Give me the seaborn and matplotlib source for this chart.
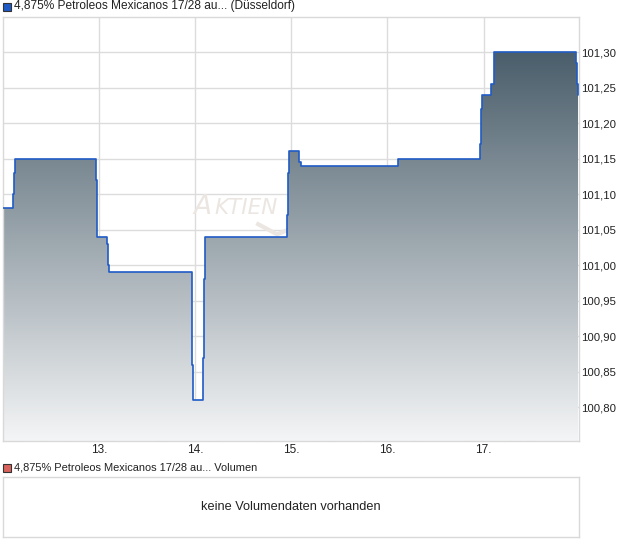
import numpy as np
import pandas as pd
import matplotlib
matplotlib.use("Agg")
import matplotlib.pyplot as plt
import seaborn as sns
from matplotlib.colors import LinearSegmentedColormap
from matplotlib.patches import Rectangle

# ---- data ----
days = [12.000, 12.104, 12.111, 12.125, 12.9625, 12.973, 12.979, 13.083, 13.094, 13.104,
        13.9625, 13.971, 13.979, 14.083, 14.094, 14.104, 14.958, 14.969, 14.979, 15.083,
        15.104, 16.108, 16.958, 16.969, 16.979, 17.080, 17.104, 17.9625, 17.973, 17.986]
prices = [101.08, 101.10, 101.13, 101.15, 101.12, 101.07, 101.04, 101.03, 101.00, 100.99,
          100.94, 100.86, 100.81, 100.87, 100.98, 101.04, 101.07, 101.13, 101.16, 101.145,
          101.14, 101.15, 101.17, 101.22, 101.24, 101.255, 101.30, 101.285, 101.255, 101.24]
x_ticks = [13, 14, 15, 16, 17]
x_labels = ["13.", "14.", "15.", "16.", "17."]
y_ticks = [100.80, 100.85, 100.90, 100.95, 101.00, 101.05, 101.10, 101.15, 101.20, 101.25, 101.30]
y_labels = ["100,80", "100,85", "100,90", "100,95", "101,00", "101,05", "101,10",
            "101,15", "101,20", "101,25", "101,30"]
title_main = "4,875% Petroleos Mexicanos 17/28 au... (Düsseldorf)"
title_vol = "4,875% Petroleos Mexicanos 17/28 au... Volumen"
no_vol = "keine Volumendaten vorhanden"

df = pd.DataFrame({"day": days, "price": prices})

sns.set_theme(style="white")
plt.rcParams["font.family"] = ["Liberation Sans", "DejaVu Sans"]

W, H = 620, 546
fig = plt.figure(figsize=(W / 100, H / 100), dpi=100)

def fx(px):
    return px / W

def fy(py):
    return 1 - py / H

XMIN, XMAX = 12.0, 17.99
YMIN, YMAX = 100.7525, 101.35
border = "#d9d9d9"
grid = "#dcdcdc"
txt = "#222222"
wm = "#ebe6e1"

ax = fig.add_axes([fx(3), fy(441), fx(578.7) - fx(3), fy(16.5) - fy(441)])
ax.set_xlim(XMIN, XMAX)
ax.set_ylim(YMIN, YMAX)

for v in x_ticks:
    ax.axvline(v, color=grid, lw=1, zorder=0)
for v in y_ticks:
    ax.axhline(v, color=grid, lw=1, zorder=0)

# watermark (axes-fraction placement)
ax.text(0.331, 0.535, "A", transform=ax.transAxes, fontsize=19, style="italic",
        color=wm, ha="left", va="baseline", zorder=1, fontfamily="DejaVu Sans")
ax.text(0.367, 0.535, "KTIEN", transform=ax.transAxes, fontsize=15.5, style="italic",
        color=wm, ha="left", va="baseline", zorder=1, fontfamily="DejaVu Sans")
ax.plot([0.440, 0.476, 0.50], [0.513, 0.487, 0.50], transform=ax.transAxes,
        color=wm, lw=3, solid_capstyle="butt", zorder=1)

# gradient fill under step line
poly = ax.fill_between(df["day"], df["price"], YMIN, step="post", color="none", lw=0, zorder=2)
cmap = LinearSegmentedColormap.from_list("g", ["#f4f5f6", "#4a5e6b"])
grad = np.linspace(0, 1, 256).reshape(-1, 1)
im = ax.imshow(grad, extent=[XMIN, XMAX, YMIN, 101.30], origin="lower", cmap=cmap,
               aspect="auto", zorder=2, interpolation="bilinear")
path = poly.get_paths()[0]
im.set_clip_path(path, transform=ax.transData)
ax.set_xlim(XMIN, XMAX)
ax.set_ylim(YMIN, YMAX)

sns.lineplot(data=df, x="day", y="price", ax=ax, drawstyle="steps-post", color="#1f5bc6",
             lw=1.2, estimator=None, sort=False, zorder=3)

ax.set_xlabel("")
ax.set_ylabel("")
ax.set_xticks(x_ticks)
ax.set_xticklabels(x_labels, fontsize=8.5, color=txt)
ax.set_yticks(y_ticks)
ax.set_yticklabels(y_labels, fontsize=8.2, color=txt)
ax.yaxis.tick_right()
ax.tick_params(axis="both", length=0)
ax.tick_params(axis="y", pad=2)
ax.tick_params(axis="x", pad=2)
for s in ax.spines.values():
    s.set_color(border)
    s.set_linewidth(1)
    s.set_visible(True)

# legend headers
fig.add_artist(Rectangle((fx(3), fy(10.5)), fx(8), 8 / H, facecolor="#1f5bc6",
                         edgecolor="#333333", lw=0.8, transform=fig.transFigure))
fig.text(fx(14), fy(6.5), title_main, fontsize=8.6, color=txt, ha="left", va="center")
fig.add_artist(Rectangle((fx(3), fy(471.5)), fx(8), 8 / H, facecolor="#d9625c",
                         edgecolor="#333333", lw=0.8, transform=fig.transFigure))
fig.text(fx(14), fy(467.5), title_vol, fontsize=7.9, color=txt, ha="left", va="center")

# volume panel
axv = fig.add_axes([fx(3), fy(537.3), fx(578.7) - fx(3), fy(477.3) - fy(537.3)])
axv.set_xticks([])
axv.set_yticks([])
for s in axv.spines.values():
    s.set_color(border)
    s.set_linewidth(1)
axv.text(0.5, 0.5, no_vol, transform=axv.transAxes, ha="center", va="center",
         fontsize=9.2, color=txt)

fig.savefig("out.png", dpi=100, facecolor="white")
